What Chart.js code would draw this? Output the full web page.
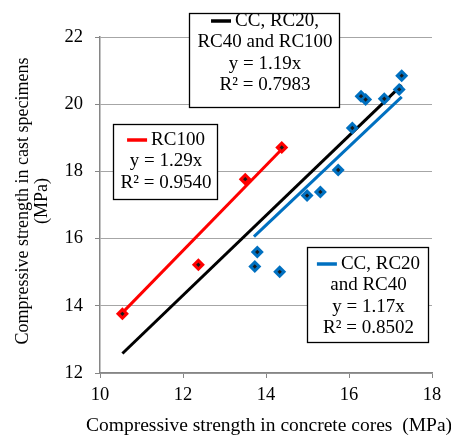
<!DOCTYPE html>
<html>
<head>
<meta charset="utf-8">
<script src="https://cdn.jsdelivr.net/npm/chart.js@4"></script>
<style>
  html, body { margin: 0; padding: 0; background: #fff; }
  #wrap { width: 451px; height: 437px; }
</style>
</head>
<body>
<div id="wrap"><canvas id="chart" width="451" height="437"></canvas></div>
<script>
// measured points (x = concrete cores, y = cast specimens), MPa
const rc100X = [10.54, 12.37, 13.50, 14.38];
const rc100Y = [13.76, 15.22, 17.77, 18.71];
const ccX = [13.73, 13.79, 14.33, 14.99, 15.31, 15.74, 16.08, 16.29, 16.40, 16.85, 17.21, 17.27];
const ccY = [15.17, 15.60, 15.01, 17.28, 17.39, 18.04, 19.29, 20.24, 20.14, 20.16, 20.44, 20.85];

// trendline end points
const allTrendX = [10.54, 17.27];
const allTrendY = [12.58, 20.57];
const rcTrendX = [10.56, 14.38];
const rcTrendY = [13.82, 18.66];
const ccTrendX = [13.71, 17.27];
const ccTrendY = [16.06, 20.22];

const xTicks = [10, 12, 14, 16, 18];
const yTicks = [12, 14, 16, 18, 20, 22];

const xTitle = "Compressive strength in concrete cores  (MPa)";
const yTitle = ["Compressive strength in cast specimens", "(MPa)"];

const toPts = (xs, ys) => xs.map((x, i) => ({ x: x, y: ys[i] }));

const FONT = "'Liberation Serif', 'Times New Roman', serif";
const BLUE = "#0070C0";
const RED = "#FF0000";

// annotation boxes with the trendline equations
const boxes = [
  { rect: [189, 13, 150, 94], color: "#000000", lines: ["CC, RC20,", "RC40 and RC100", "y = 1.19x", "R² = 0.7983"], y0: 21 },
  { rect: [113, 124, 104, 75], color: RED, lines: ["RC100", "y = 1.29x", "R² = 0.9540"], y0: 140 },
  { rect: [307, 247, 121, 95], color: BLUE, lines: ["CC, RC20", "and RC40", "y = 1.17x", "R² = 0.8502"], y0: 264 }
];

const extras = {
  id: "extras",
  afterDatasetsDraw(chart) {
    const ctx = chart.ctx;
    const area = chart.chartArea;
    ctx.save();
    // black centre dot in every marker
    chart.data.datasets.forEach((ds, i) => {
      if (!ds.isMarker) return;
      chart.getDatasetMeta(i).data.forEach(p => {
        ctx.fillStyle = "#1a1a1a";
        ctx.beginPath();
        ctx.moveTo(p.x, p.y - 2.2);
        ctx.lineTo(p.x + 2.2, p.y);
        ctx.lineTo(p.x, p.y + 2.2);
        ctx.lineTo(p.x - 2.2, p.y);
        ctx.closePath();
        ctx.fill();
      });
    });
    // text boxes
    ctx.font = "19px " + FONT;
    ctx.textBaseline = "middle";
    boxes.forEach(b => {
      const [bx, by, bw, bh] = b.rect;
      ctx.fillStyle = "#fff";
      ctx.fillRect(bx, by, bw, bh);
      ctx.strokeStyle = "#000";
      ctx.lineWidth = 1.3;
      ctx.strokeRect(bx + 0.5, by + 0.5, bw, bh);
      const cx = bx + bw / 2 + 1;
      b.lines.forEach((t, k) => {
        const y = b.y0 + k * 21.5;
        ctx.fillStyle = "#000";
        if (k === 0) {
          const tw = ctx.measureText(t).width;
          const total = 20 + 4 + tw;
          const sx = cx - total / 2;
          ctx.strokeStyle = b.color;
          ctx.lineWidth = 3.5;
          ctx.beginPath();
          ctx.moveTo(sx, y);
          ctx.lineTo(sx + 20, y);
          ctx.stroke();
          ctx.textAlign = "left";
          ctx.fillText(t, sx + 24, y);
        } else {
          ctx.textAlign = "center";
          ctx.fillText(t, cx, y);
        }
      });
    });
    // axis titles (drawn here so the x title is not squeezed to the plot width)
    ctx.fillStyle = "#000";
    ctx.textAlign = "center";
    ctx.textBaseline = "middle";
    ctx.font = "19.5px " + FONT;
    ctx.fillText(xTitle, (area.left + area.right) / 2 + 3, 426);
    ctx.font = "18px " + FONT;
    ctx.translate(0, 201);
    ctx.rotate(-Math.PI / 2);
    ctx.fillText(yTitle[0], 0, 23);
    ctx.fillText(yTitle[1], 0, 42);
    ctx.restore();
  }
};

const ctx = document.getElementById("chart").getContext("2d");

new Chart(ctx, {
  type: "scatter",
  data: {
    datasets: [
      {
        label: "RC100",
        isMarker: true,
        data: toPts(rc100X, rc100Y),
        pointStyle: "rectRot",
        pointRadius: 6.5,
        backgroundColor: RED,
        borderColor: RED,
        borderWidth: 0
      },
      {
        label: "CC, RC20 and RC40",
        isMarker: true,
        data: toPts(ccX, ccY),
        pointStyle: "rectRot",
        pointRadius: 6.5,
        backgroundColor: BLUE,
        borderColor: BLUE,
        borderWidth: 0
      },
      {
        label: "RC100 trend",
        data: toPts(rcTrendX, rcTrendY),
        showLine: true,
        borderColor: RED,
        borderWidth: 3,
        pointRadius: 0
      },
      {
        label: "CC/RC20/RC40 trend",
        data: toPts(ccTrendX, ccTrendY),
        showLine: true,
        borderColor: BLUE,
        borderWidth: 3,
        pointRadius: 0
      },
      {
        label: "All trend",
        data: toPts(allTrendX, allTrendY),
        showLine: true,
        borderColor: "#000",
        borderWidth: 3,
        pointRadius: 0
      }
    ]
  },
  options: {
    responsive: false,
    animation: false,
    events: [],
    layout: { padding: { left: 0, right: 19, top: 37, bottom: 0 } },
    plugins: {
      legend: { display: false },
      tooltip: { enabled: false }
    },
    scales: {
      x: {
        type: "linear",
        min: 10,
        max: 18,
        afterBuildTicks: s => { s.ticks = xTicks.map(v => ({ value: v })); },
        afterFit: s => { s.height = 64; },
        grid: { drawOnChartArea: false, drawTicks: true, tickLength: 5, color: "#868686" },
        border: { color: "#868686", width: 1.5 },
        ticks: { color: "#000", padding: 6, font: { family: FONT, size: 18.5 } },
        title: { display: false }
      },
      y: {
        type: "linear",
        min: 12,
        max: 22,
        afterBuildTicks: s => { s.ticks = yTicks.map(v => ({ value: v })); },
        afterFit: s => { s.width = 100; },
        grid: { color: "#a6a6a6", tickLength: 5, tickColor: "#868686" },
        border: { color: "#868686", width: 1.5 },
        ticks: { color: "#000", padding: 12, font: { family: FONT, size: 18.5 } },
        title: { display: false }
      }
    }
  },
  plugins: [extras]
});
</script>
</body>
</html>
